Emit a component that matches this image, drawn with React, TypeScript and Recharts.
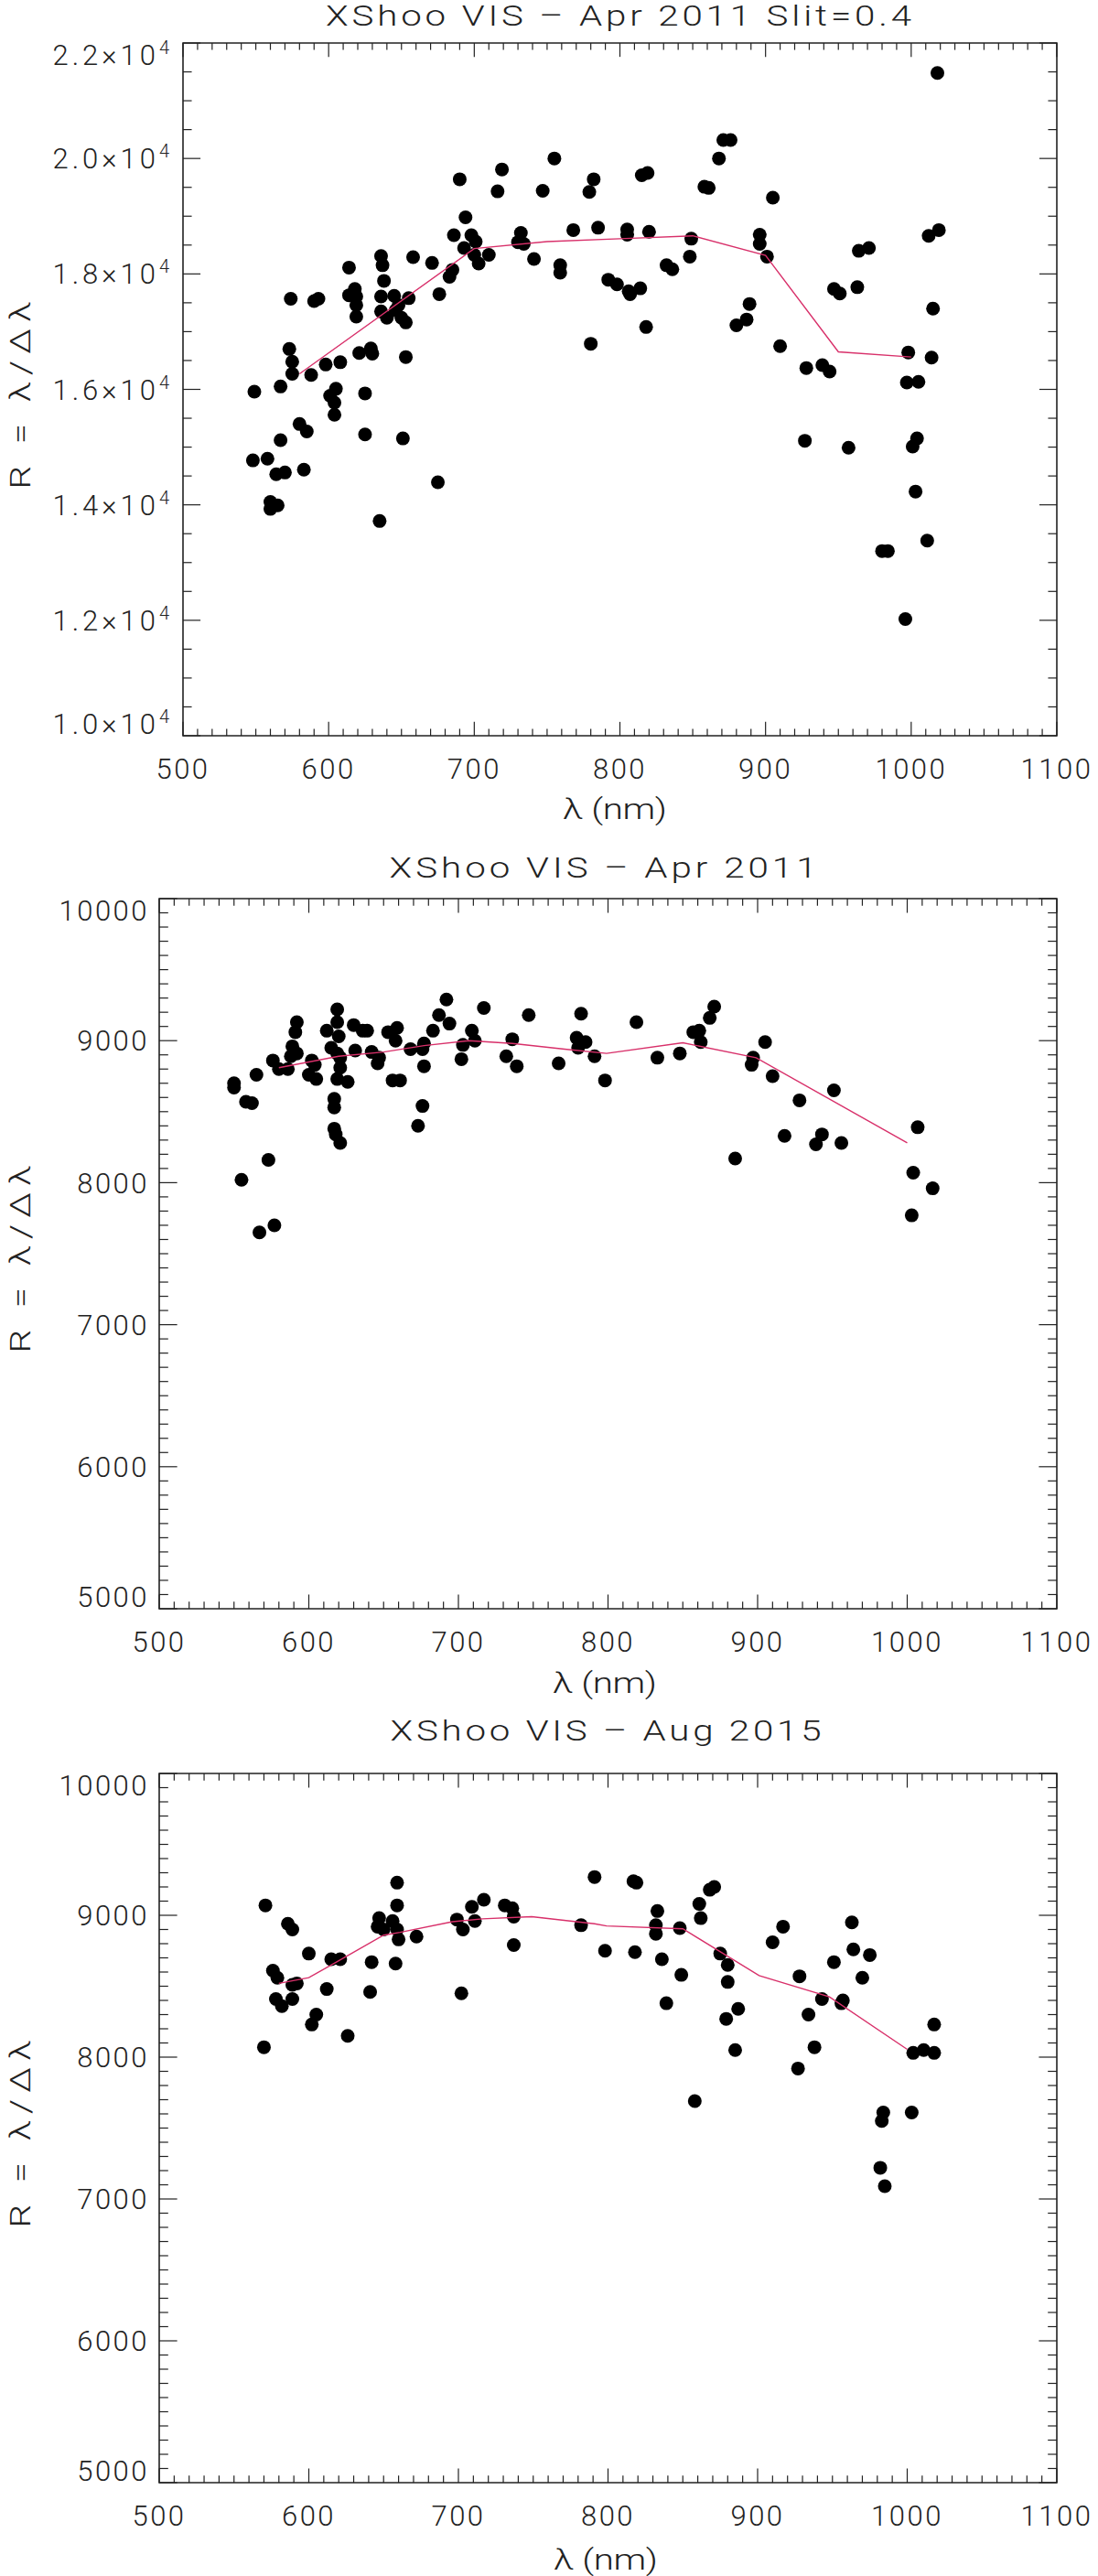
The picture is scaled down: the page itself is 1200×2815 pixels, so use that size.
import React from "react";
import { ScatterChart, Scatter, XAxis, YAxis, ReferenceArea } from "recharts";

// XShoo VIS - Apr 2011, Slit=0.4
const slitWave = [
  755, 690, 719, 716, 747, 694, 686, 698, 701, 693, 700, 703, 710, 732, 730, 734, 741, 685, 683, 676,
  671, 658, 636, 637, 638, 636, 614, 618, 614, 619, 619, 619, 645, 655, 648, 646, 636, 640, 650, 653,
  574, 590, 593, 573, 575, 575, 588, 598, 608, 621, 629, 630, 653, 549, 567, 605, 601, 604, 604, 625,
  580, 585, 567, 625, 651, 548, 558, 564, 570, 583, 560, 560, 565, 675, 635,
  1018, 871, 876, 868, 782, 779, 815, 819, 858, 861, 905, 768, 785, 805, 805, 820, 849, 848, 896, 896,
  901, 759, 759, 792, 798, 806, 807, 814, 832, 836, 818, 780, 889, 887, 880, 910, 947, 951, 963, 964,
  971, 1012, 1019, 1015, 998, 1014, 928, 939, 944, 997, 1005, 927, 957, 1001, 1004, 1003, 1011, 980, 984, 996,
];
const slitR = [
  20000, 19640, 19810, 19430, 19440, 18980, 18670, 18670, 18560, 18450, 18330, 18180, 18330, 18710, 18550, 18520, 18260, 18070, 17950, 17650,
  18190, 18290, 18310, 18150, 17880, 17610, 18110, 17740, 17630, 17610, 17460, 17260, 17620, 17580, 17460, 17370, 17350, 17240, 17240, 17160,
  17570, 17530, 17570, 16700, 16480, 16270, 16250, 16430, 16470, 16630, 16710, 16620, 16560, 15960, 16050, 16010, 15890, 15770, 15560, 15930,
  15400, 15270, 15120, 15220, 15150, 14770, 14800, 14530, 14560, 14610, 14050, 13930, 13990, 14390, 13720,
  21480, 20320, 20320, 20000, 19640, 19420, 19710, 19750, 19510, 19490, 19320, 18760, 18800, 18770, 18680, 18730, 18610, 18300, 18680, 18520,
  18300, 18150, 18020, 17900, 17820, 17700, 17650, 17750, 18150, 18080, 17080, 16790, 17480, 17210, 17110, 16750, 17740, 17660, 17770, 18400,
  18450, 18660, 18760, 17400, 16640, 16550, 16370, 16420, 16310, 16120, 16130, 15110, 14990, 15010, 15150, 14230, 13380, 13200, 13200, 12020,
];
const slitFitWave = [580, 700, 750, 800, 850, 900, 950, 1000];
const slitFitR = [16270, 18440, 18560, 18610, 18660, 18320, 16650, 16560];

// XShoo VIS - Apr 2011
const aprWave = [
  550, 550, 558, 562, 565, 576, 580, 586, 589, 592, 591, 588, 592, 602, 604, 600, 605, 612, 615, 619,
  619, 620, 619, 621, 621, 619, 626, 617, 617, 617, 618, 621, 630, 636, 639, 631, 642, 646, 647, 653,
  659, 658, 656, 661, 668, 676, 677, 677, 676, 673, 683, 687, 692, 694, 703, 702, 709, 711, 717, 732,
  736, 739, 747, 767, 782, 779, 785, 780, 791, 573, 555, 567, 577,
  798, 819, 833, 848, 871, 868, 857, 861, 862, 905, 897, 896, 910, 885, 928, 951, 918, 943, 939, 956,
  1007, 1004, 1017, 1003,
];
const aprR = [
  8700, 8670, 8570, 8560, 8760, 8860, 8800, 8800, 8960, 9130, 9060, 8890, 8910, 8860, 8830, 8760, 8730, 9070, 8950, 9220,
  9130, 9030, 8910, 8880, 8810, 8730, 8710, 8590, 8530, 8380, 8340, 8280, 9110, 9070, 9070, 8930, 8920, 8840, 8880, 9060,
  9090, 9000, 8720, 8720, 8940, 8940, 8980, 8820, 8540, 8400, 9070, 9180, 9290, 9120, 8970, 8870, 9070, 9000, 9230, 8890,
  9010, 8820, 9180, 8840, 9190, 9020, 8990, 8950, 8890, 8160, 8020, 7650, 7700,
  8720, 9130, 8880, 8910, 9240, 9160, 9060, 9070, 8990, 8990, 8880, 8830, 8750, 8170, 8580, 8650, 8330, 8340, 8270, 8280,
  8390, 8070, 7960, 7770,
];
const aprFitWave = [580, 620, 650, 677, 707, 736, 771, 799, 850, 899, 1000];
const aprFitR = [8810, 8890, 8920, 8965, 9000, 8980, 8940, 8910, 8985, 8880, 8280];

// XShoo VIS - Aug 2015
const augWave = [
  571, 570, 576, 579, 578, 582, 586, 589, 589, 589, 592, 600, 605, 602, 612, 615, 621, 626, 641, 642,
  647, 646, 650, 656, 659, 659, 659, 660, 658, 672, 699, 703, 709, 711, 717, 702, 731, 736, 737, 737,
  782, 791, 817, 819, 833, 832, 832, 848, 798, 818, 836, 849, 839, 868, 871, 861, 862, 875, 880, 880,
  887, 879, 885, 858, 917, 910, 928, 951, 963, 964, 975, 970, 943, 957, 956, 934, 938, 927, 1018, 1004,
  1011, 1018, 984, 983, 1003, 982, 985,
];
const augR = [
  9070, 8070, 8610, 8560, 8410, 8360, 8940, 8900, 8410, 8510, 8520, 8730, 8300, 8230, 8480, 8690, 8690, 8150, 8460, 8670,
  8980, 8920, 8900, 8960, 8900, 9230, 9070, 8830, 8660, 8850, 8970, 8900, 9060, 8960, 9110, 8450, 9070, 9050, 8990, 8790,
  8930, 9270, 9240, 9230, 9030, 8930, 8870, 8910, 8750, 8740, 8690, 8580, 8380, 9180, 9200, 9080, 8980, 8730, 8650, 8530,
  8340, 8270, 8050, 7690, 8920, 8810, 8570, 8670, 8950, 8760, 8720, 8560, 8410, 8400, 8380, 8300, 8070, 7920, 8230, 8030,
  8050, 8030, 7610, 7550, 7610, 7220, 7090,
];
const augFitWave = [580, 600, 616, 650, 661, 696, 716, 749, 791, 799, 850, 901, 948, 1000];
const augFitR = [8520, 8560, 8655, 8860, 8880, 8955, 8975, 8990, 8940, 8925, 8905, 8575, 8425, 8055];

const waveLabels = [500, 600, 700, 800, 900, 1000, 1100];
const slitYLabels = [10000, 12000, 14000, 16000, 18000, 20000, 22000];
const resYLabels = [5000, 6000, 7000, 8000, 9000, 10000];

const AXIS = "#222";
const FIT = "#d8306a";
const FONT = "Roboto, 'DejaVu Sans', sans-serif";
const txt = { fontFamily: FONT, fontWeight: 300, fontSize: 31, fill: "#222", letterSpacing: 2.5 };

type Box = { left: number; right: number; top: number; bottom: number };

interface PanelProps {
  top: number;
  height: number;
  box: Box;
  wave: number[];
  r: number[];
  fitWave: number[];
  fitR: number[];
  yLabels: number[];
  yMinor: number;
  sci?: boolean;
}

function steps(from: number, to: number, step: number) {
  const out: number[] = [];
  for (let v = from; v <= to + 1e-6; v += step) out.push(v);
  return out;
}

function Panel({ top, height, box, wave, r, fitWave, fitR, yLabels, yMinor, sci }: PanelProps) {
  const pts = wave.map((w, i) => ({ x: w, y: r[i] }));
  const fit = fitWave.map((w, i) => ({ x: w, y: fitR[i] }));
  const yMin = yLabels[0];
  const yMax = yLabels[yLabels.length - 1];
  const xLen = 0.02 * (box.bottom - box.top);
  const yLen = 0.02 * (box.right - box.left);

  const XTick = (props: any) => {
    const { x, payload } = props;
    const v = payload.value as number;
    const major = waveLabels.includes(v);
    const len = major ? xLen : xLen / 2;
    return (
      <g>
        <line x1={x} x2={x} y1={box.bottom} y2={box.bottom - len} stroke={AXIS} strokeWidth={1.2} />
        <line x1={x} x2={x} y1={box.top} y2={box.top + len} stroke={AXIS} strokeWidth={1.2} />
        {major && (
          <text x={x} y={box.bottom + 47} textAnchor="middle" style={txt}>
            {v}
          </text>
        )}
      </g>
    );
  };

  const YTick = (props: any) => {
    const { y, payload } = props;
    const v = payload.value as number;
    const major = yLabels.includes(v);
    const len = major ? yLen : yLen / 2;
    let ly = y;
    if (v === yMax) ly = box.top + 13;
    if (v === yMin) ly = box.bottom - 13;
    return (
      <g>
        <line x1={box.left} x2={box.left + len} y1={y} y2={y} stroke={AXIS} strokeWidth={1.2} />
        <line x1={box.right} x2={box.right - len} y1={y} y2={y} stroke={AXIS} strokeWidth={1.2} />
        {major && (
          <text
            x={box.left - 11}
            y={ly}
            dy="0.36em"
            textAnchor="end"
            style={sci ? { ...txt, letterSpacing: 4 } : txt}
          >
            {sci ? (
              <>
                <tspan>{(v / 10000).toFixed(1)}×10</tspan>
                <tspan dy="-0.6em" fontSize={20}>4</tspan>
              </>
            ) : (
              v
            )}
          </text>
        )}
      </g>
    );
  };

  return (
    <div style={{ position: "absolute", left: 0, top, width: 1200, height }}>
      <ScatterChart
        width={1200}
        height={height}
        margin={{ top: box.top, right: 1200 - box.right, bottom: 0, left: 0 }}
      >
        <XAxis
          type="number"
          dataKey="x"
          domain={[500, 1100]}
          ticks={steps(500, 1100, 10)}
          interval={0}
          height={height - box.bottom}
          axisLine={false}
          tickLine={false}
          tick={XTick}
          allowDataOverflow
        />
        <YAxis
          type="number"
          dataKey="y"
          domain={[yMin, yMax]}
          ticks={steps(yMin, yMax, yMinor)}
          interval={0}
          width={box.left}
          axisLine={false}
          tickLine={false}
          tick={YTick}
          allowDataOverflow
        />
        <ReferenceArea
          x1={500}
          x2={1100}
          y1={yMin}
          y2={yMax}
          fill="none"
          stroke={AXIS}
          strokeWidth={1.6}
          ifOverflow="visible"
        />
        <Scatter
          data={pts}
          isAnimationActive={false}
          shape={(p: any) => <circle cx={p.cx} cy={p.cy} r={7.5} fill="#000" />}
        />
        <Scatter
          data={fit}
          isAnimationActive={false}
          line={{ stroke: FIT, strokeWidth: 1.4 }}
          shape={() => <g />}
        />
      </ScatterChart>
    </div>
  );
}

// wide, thin lettering like the plotting package's vector font
function WideText({ x, y, w, rot = 0, children }: { x: number; y: number; w: number; rot?: number; children: string }) {
  const sx = 1.3;
  return (
    <g transform={`translate(${x} ${y}) rotate(${rot}) scale(${sx} 1)`}>
      <text
        x={0}
        y={0}
        dy={rot ? "0.36em" : 0}
        textAnchor="middle"
        textLength={w / sx}
        lengthAdjust="spacing"
        style={{ ...txt, letterSpacing: 0 }}
      >
        {children}
      </text>
    </g>
  );
}

const titles = [
  { text: "XShoo VIS – Apr 2011 Slit=0.4", x: 676, y: 28, w: 640 },
  { text: "XShoo VIS – Apr 2011", x: 659, y: 959, w: 467 },
  { text: "XShoo VIS – Aug 2015", x: 662, y: 1902, w: 471 },
];
const xTitles = [
  { x: 672, y: 895 },
  { x: 661, y: 1850 },
  { x: 662, y: 2808 },
];
const yTitles = [
  { x: 22, y: 432 },
  { x: 22, y: 1376 },
  { x: 22, y: 2332 },
];

export default function App() {
  return (
    <div style={{ position: "absolute", left: 0, top: 0, width: 1200, height: 2815, background: "#fff" }}>
      <Panel
        top={0}
        height={905}
        box={{ left: 200, right: 1155, top: 47, bottom: 804 }}
        wave={slitWave}
        r={slitR}
        fitWave={slitFitWave}
        fitR={slitFitR}
        yLabels={slitYLabels}
        yMinor={500}
        sci
      />
      <Panel
        top={920}
        height={940}
        box={{ left: 174, right: 1155, top: 62, bottom: 838 }}
        wave={aprWave}
        r={aprR}
        fitWave={aprFitWave}
        fitR={aprFitR}
        yLabels={resYLabels}
        yMinor={100}
      />
      <Panel
        top={1870}
        height={945}
        box={{ left: 174, right: 1155, top: 68, bottom: 843 }}
        wave={augWave}
        r={augR}
        fitWave={augFitWave}
        fitR={augFitR}
        yLabels={resYLabels}
        yMinor={100}
      />
      <svg
        width={1200}
        height={2815}
        style={{ position: "absolute", left: 0, top: 0, pointerEvents: "none" }}
      >
        {titles.map((t) => (
          <WideText key={t.text} x={t.x} y={t.y} w={t.w}>
            {t.text}
          </WideText>
        ))}
        {xTitles.map((t, i) => (
          <WideText key={i} x={t.x} y={t.y} w={114}>
            λ (nm)
          </WideText>
        ))}
        {yTitles.map((t, i) => (
          <WideText key={i} x={t.x} y={t.y} w={205} rot={-90}>
            R = λ/Δλ
          </WideText>
        ))}
      </svg>
    </div>
  );
}
